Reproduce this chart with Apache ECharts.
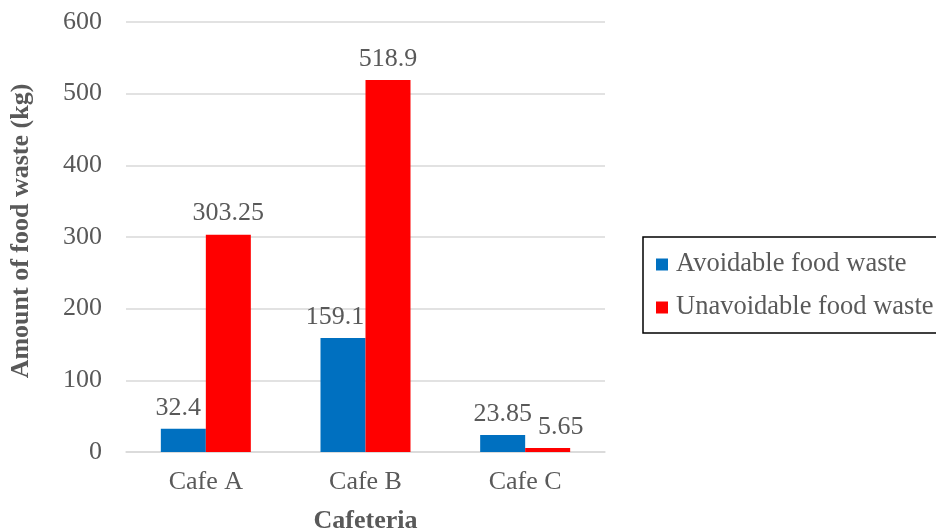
<!DOCTYPE html>
<html>
<head>
<meta charset="utf-8">
<script src="https://cdn.jsdelivr.net/npm/echarts@6/dist/echarts.min.js"></script>
<style>
	html, body { margin: 0; padding: 0; background: #fff; }
	#chart { width: 936px; height: 531px; }
</style>
</head>
<body>
<div id="chart"></div>
<script>
var cafes = ['Cafe A', 'Cafe B', 'Cafe C'];
var avoidable = [32.4, 159.1, 23.85];
var unavoidable = [303.25, 518.9, 5.65];
var yTicks = [0, 100, 200, 300, 400, 500, 600];

var textColor = '#595959';
var serif = 'Liberation Serif, Times New Roman, serif';

// labels nudged sideways like in the original chart
var avoidShift = [ -5, -8, 0 ];
var unavoidShift = [ 0, 0, 13 ];

function withShift(values, shifts) {
	return values.map(function(v, i) {
		return {
			value : v,
			label : {
				offset : [ shifts[i], 0 ]
			}
		};
	});
}

var myChart = echarts.init(document.getElementById('chart'));

var option = {
	animation : false,
	backgroundColor : '#fff',
	textStyle : {
		fontFamily : serif
	},
	grid : {
		left : 126,
		right : 331,
		top : 22,
		bottom : 79,
		outerBoundsMode : 'none'
	},
	legend : {
		orient : 'vertical',
		left : 643,
		top : 237,
		padding : [ 14, 6, 12, 13 ],
		itemWidth : 12,
		itemHeight : 12,
		itemGap : 16,
		borderColor : '#000',
		borderWidth : 1.5,
		icon : 'rect',
		textStyle : {
			color : textColor,
			fontSize : 26.5,
			fontFamily : serif,
			padding : [ 0, 0, 0, 3 ]
		},
		data : [ 'Avoidable food waste', 'Unavoidable food waste' ]
	},
	xAxis : {
		type : 'category',
		data : cafes,
		name : 'Cafeteria',
		nameLocation : 'middle',
		nameGap : 56,
		nameTextStyle : {
			color : textColor,
			fontSize : 26,
			fontWeight : 'bold',
			fontFamily : serif
		},
		axisLine : {
			lineStyle : {
				color : '#d9d9d9',
				width : 1.5
			}
		},
		axisTick : {
			show : false
		},
		axisLabel : {
			color : textColor,
			fontSize : 26,
			margin : 17,
			fontFamily : serif
		}
	},
	yAxis : {
		type : 'value',
		min : yTicks[0],
		max : yTicks[yTicks.length - 1],
		interval : 100,
		name : 'Amount of food waste (kg)',
		nameLocation : 'middle',
		nameGap : 92,
		nameTextStyle : {
			color : textColor,
			fontSize : 26,
			fontWeight : 'bold',
			fontFamily : serif,
			padding : [ 0, 0, 0, 12 ]
		},
		axisLine : {
			show : false
		},
		axisTick : {
			show : false
		},
		axisLabel : {
			color : textColor,
			fontSize : 26,
			margin : 24,
			fontFamily : serif
		},
		splitLine : {
			lineStyle : {
				color : '#d9d9d9',
				width : 1.5
			}
		}
	},
	series : [ {
		name : 'Avoidable food waste',
		type : 'bar',
		data : withShift(avoidable, avoidShift),
		barWidth : 45,
		barGap : '0%',
		itemStyle : {
			color : '#0070C0'
		},
		label : {
			show : true,
			position : 'top',
			distance : 8,
			color : textColor,
			fontSize : 26,
			fontFamily : serif
		}
	}, {
		name : 'Unavoidable food waste',
		type : 'bar',
		data : withShift(unavoidable, unavoidShift),
		barWidth : 45,
		barGap : '0%',
		itemStyle : {
			color : '#FF0000'
		},
		label : {
			show : true,
			position : 'top',
			distance : 8,
			color : textColor,
			fontSize : 26,
			fontFamily : serif
		}
	} ]
};

myChart.setOption(option, true);
</script>
</body>
</html>
